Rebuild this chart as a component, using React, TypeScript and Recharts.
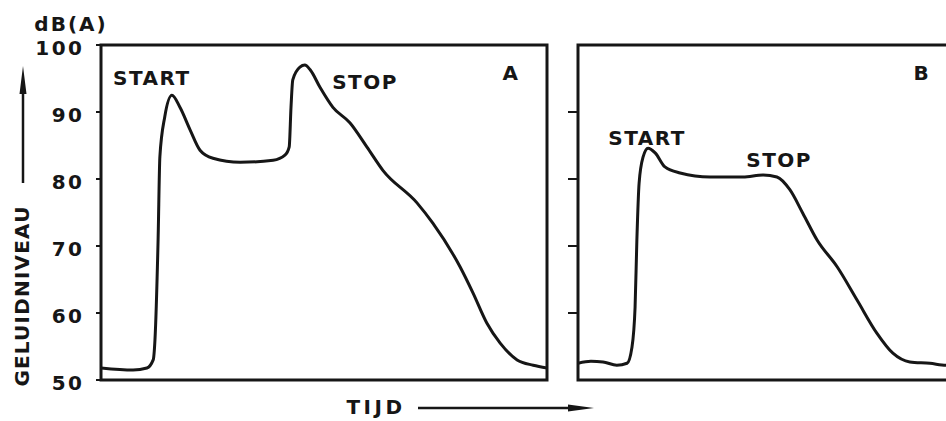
import React from 'react';
import { LineChart, Line, XAxis, YAxis, ReferenceArea, ReferenceDot } from 'recharts';

// Sound level traces (dB(A)) sampled over a relative time scale 0..100
const TIME_A = [0, 7.2, 10.3, 11.7, 12.1, 12.8, 13.2, 14.3, 15.9, 17.7, 20.0, 22.2, 25.1, 31.2, 38.6, 41.3, 42.2, 42.6, 43.0, 44.6, 45.7, 46.9, 49.1, 52.0, 55.8, 59.6, 63.2, 70.9, 74.4, 80.5, 83.4, 86.5, 89.5, 93.3, 96.9, 100];
const LEVEL_A = [51.8, 51.5, 51.8, 53, 56, 70.9, 83.3, 89.3, 92.5, 90.7, 87.3, 84.3, 83.1, 82.5, 82.8, 83.6, 84.8, 90.7, 94.8, 96.7, 97, 96.3, 93.7, 90.7, 88.4, 84.8, 81.3, 76.4, 73.4, 66.9, 63, 58.5, 55.5, 53, 52.2, 51.8];

const TIME_B = [0, 2.9, 5.6, 8.7, 11.0, 12.1, 12.8, 13.2, 13.7, 14.6, 15.7, 17.3, 19.5, 22.9, 29.6, 37.0, 41.5, 44.6, 47.5, 50.4, 53.6, 58.1, 62.6, 67.0, 70.6, 74.4, 78.9, 82.5, 100];
const LEVEL_B = [52.5, 52.8, 52.7, 52.2, 52.5, 54.9, 60.9, 70.9, 79.4, 83.3, 84.6, 83.9, 81.8, 80.9, 80.3, 80.3, 80.6, 80.3, 78.4, 74.9, 70.9, 66.9, 61.9, 57, 54, 52.7, 52.5, 52.2, 52.3];

const Y_TICKS = [50, 60, 70, 80, 90, 100];
const Y_TICKS_B = [60, 70, 80, 90];

const INK = '#161616';
const FONT = '"DejaVu Sans", sans-serif';

const dataA = TIME_A.map((t, i) => ({ t, level: LEVEL_A[i] }));
const dataB = TIME_B.map((t, i) => ({ t, level: LEVEL_B[i] }));

const labelStyle = {
  position: 'center' as const,
  fill: INK,
  fontSize: 20,
  fontWeight: 700,
  fontFamily: FONT,
  letterSpacing: 1.5,
};

function LevelTick(props: any) {
  const { x, y, payload } = props;
  return (
    <text
      x={x + 2.5}
      y={y + 10}
      textAnchor="end"
      fill={INK}
      fontSize={20}
      fontWeight={700}
      fontFamily={FONT}
      letterSpacing={2.5}
    >
      {payload.value}
    </text>
  );
}

function Panel(props: {
  data: { t: number; level: number }[];
  width: number;
  axisWidth: number;
  right: number;
  ticks: number[];
  tickSize: number;
  labels: { x: number; y: number; text: string }[];
  showTickLabels: boolean;
}) {
  return (
    <LineChart
      width={props.width}
      height={421}
      data={props.data}
      margin={{ top: 45, right: props.right, bottom: 41, left: 0 }}
    >
      <XAxis dataKey="t" type="number" domain={[0, 100]} hide allowDataOverflow />
      <YAxis
        type="number"
        domain={[50, 100]}
        ticks={props.ticks}
        width={props.axisWidth}
        axisLine={false}
        tickLine={{ stroke: INK, strokeWidth: 2 }}
        tickSize={props.tickSize}
        tickMargin={14}
        tick={props.showTickLabels ? <LevelTick /> : () => <g />}
        allowDataOverflow
      />
      <ReferenceArea x1={0} x2={100} y1={50} y2={100} fill="none" stroke={INK} strokeWidth={3} />
      <Line
        type="monotone"
        dataKey="level"
        stroke={INK}
        strokeWidth={3}
        dot={false}
        isAnimationActive={false}
      />
      {props.labels.map((l) => (
        <ReferenceDot
          key={l.text}
          x={l.x}
          y={l.y}
          r={0}
          stroke="none"
          fill="none"
          label={{ value: l.text, ...labelStyle }}
        />
      ))}
    </LineChart>
  );
}

export default function App() {
  return (
    <div
      style={{
        position: 'fixed',
        left: 0,
        top: 0,
        width: 946,
        height: 421,
        overflow: 'hidden',
        background: '#fff',
      }}
    >
      <div style={{ position: 'absolute', left: 0, top: 0 }}>
        <Panel
          data={dataA}
          width={560}
          axisWidth={101}
          right={13}
          ticks={Y_TICKS}
          tickSize={5}
          showTickLabels
          labels={[
            { x: 11.4, y: 95.1, text: 'START' },
            { x: 59.2, y: 94.5, text: 'STOP' },
            { x: 91.9, y: 95.8, text: 'A' },
          ]}
        />
      </div>
      <div style={{ position: 'absolute', left: 560, top: 0 }}>
        <Panel
          data={dataB}
          width={480}
          axisWidth={18}
          right={16}
          ticks={Y_TICKS_B}
          tickSize={10}
          showTickLabels={false}
          labels={[
            { x: 15.5, y: 86.1, text: 'START' },
            { x: 45.1, y: 82.8, text: 'STOP' },
            { x: 77.1, y: 95.8, text: 'B' },
          ]}
        />
      </div>
      {/* axis titles and arrows */}
      <svg
        width={946}
        height={421}
        style={{ position: 'absolute', left: 0, top: 0, pointerEvents: 'none' }}
      >
        <text x={71} y={31} textAnchor="middle" fill={INK} fontSize={20} fontWeight={700} fontFamily={FONT} letterSpacing={2}>
          dB(A)
        </text>
        <text
          transform="translate(22, 296) rotate(-90)"
          textAnchor="middle"
          dominantBaseline="central"
          fill={INK}
          fontSize={20}
          fontWeight={700}
          fontFamily={FONT}
          letterSpacing={1.2}
        >
          GELUIDNIVEAU
        </text>
        <line x1={23} y1={183} x2={23} y2={85} stroke={INK} strokeWidth={2.5} />
        <polygon points="23,66 19.5,94 26.5,94" fill={INK} />
        <text x={376} y={414} textAnchor="middle" fill={INK} fontSize={20} fontWeight={700} fontFamily={FONT} letterSpacing={3.5}>
          TIJD
        </text>
        <line x1={418} y1={408} x2={575} y2={408} stroke={INK} strokeWidth={2.5} />
        <polygon points="594,408 568,404.5 568,411.5" fill={INK} />
      </svg>
    </div>
  );
}
